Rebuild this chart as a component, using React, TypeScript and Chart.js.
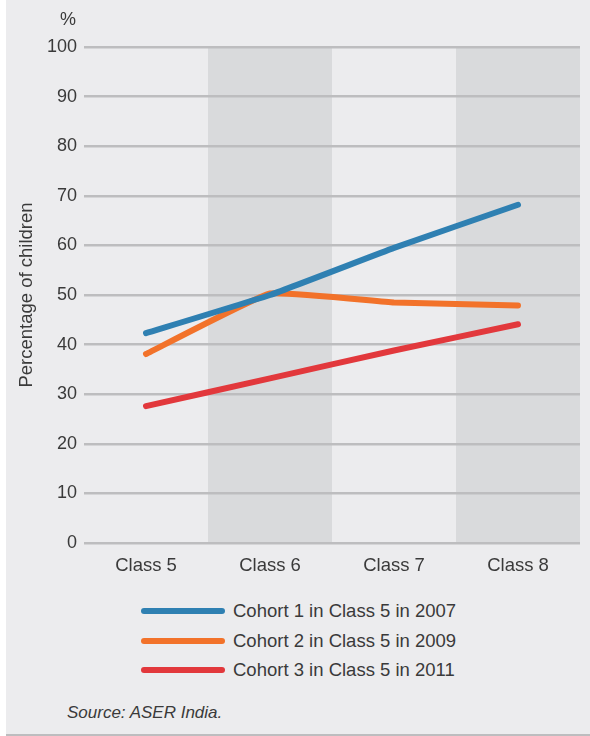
import React, { useEffect, useRef } from "react";
import { Chart, registerables } from "chart.js";

Chart.register(...registerables);

const categories = ["Class 5", "Class 6", "Class 7", "Class 8"];
const cohort1 = [42.3, 50.0, 59.5, 68.2];
const cohort2 = [38.1, 50.3, 48.5, 47.9];
const cohort3 = [27.6, 33.2, 38.8, 44.1];
const seriesNames = [
  "Cohort 1 in Class 5 in 2007",
  "Cohort 2 in Class 5 in 2009",
  "Cohort 3 in Class 5 in 2011",
];
const seriesColors = ["#2F80B2", "#F2722A", "#E2383C"];
const yTicks = [0, 10, 20, 30, 40, 50, 60, 70, 80, 90, 100];
const shadedCategories = [1, 3];

const FONT = "'Liberation Sans', Arial, Helvetica, sans-serif";

const bandPlugin = {
  id: "bands",
  beforeDraw(chart: any) {
    const { ctx, chartArea, scales } = chart;
    const xs = scales.x;
    const step = xs.getPixelForValue(1) - xs.getPixelForValue(0);
    ctx.save();
    ctx.fillStyle = "#D9DADC";
    shadedCategories.forEach((i) => {
      const c = xs.getPixelForValue(i);
      const l = Math.max(chartArea.left, c - step / 2);
      const r = Math.min(chartArea.right, c + step / 2);
      ctx.fillRect(l, chartArea.top, r - l, chartArea.bottom - chartArea.top);
    });
    ctx.restore();
  },
  afterDraw(chart: any) {
    const { ctx, chartArea } = chart;
    ctx.save();
    ctx.fillStyle = "#3a3a3a";
    ctx.font = `18px ${FONT}`;
    ctx.textAlign = "right";
    ctx.textBaseline = "middle";
    ctx.fillText("%", chartArea.left - 8, chartArea.top - 27);
    ctx.restore();
  },
};

export default function App() {
  const ref = useRef<HTMLCanvasElement>(null);

  useEffect(() => {
    document.body.style.margin = "0";
    const canvas = ref.current;
    if (!canvas) return;
    Chart.defaults.font.family = FONT;
    const data = [cohort1, cohort2, cohort3];
    const chart = new Chart(canvas, {
      type: "line",
      data: {
        labels: categories,
        datasets: data.map((d, i) => ({
          label: seriesNames[i],
          data: d,
          borderColor: seriesColors[i],
          backgroundColor: seriesColors[i],
          borderWidth: 6,
          borderCapStyle: "round",
          borderJoinStyle: "round",
          pointRadius: 0,
          tension: 0.1,
          fill: false,
        })),
      },
      options: {
        responsive: false,
        animation: false,
        layout: { padding: { left: 0, right: 10, top: 47, bottom: 7 } },
        plugins: {
          legend: { display: false },
          tooltip: { enabled: false },
        },
        scales: {
          x: {
            offset: true,
            grid: { display: false, drawTicks: false, offset: true },
            border: { display: false },
            ticks: { color: "#3a3a3a", font: { size: 18.5 }, padding: 12 },
            afterFit: (axis: any) => {
              axis.height = 40;
            },
          },
          y: {
            min: 0,
            max: 100,
            afterBuildTicks: (axis: any) => {
              axis.ticks = yTicks.map((v) => ({ value: v }));
            },
            grid: { color: "#BDBDBF", lineWidth: 2.5, drawTicks: false },
            border: { display: false },
            ticks: { color: "#3a3a3a", font: { size: 18 }, padding: 7 },
            title: {
              display: true,
              text: "Percentage of children",
              color: "#3a3a3a",
              font: { size: 18.5 },
              padding: { top: 10, bottom: 0 },
            },
            afterFit: (axis: any) => {
              axis.width = 78;
            },
          },
        },
      },
      plugins: [bandPlugin],
    } as any);
    return () => chart.destroy();
  }, []);

  const legendTops = [611, 641, 670];

  return (
    <div style={{ position: "relative", width: 590, height: 736, background: "#fff", fontFamily: FONT }}>
      <div
        style={{
          position: "absolute",
          left: 6,
          top: 0,
          width: 584,
          height: 734,
          background: "#ECECEE",
          borderBottom: "2px solid #BDBDBF",
        }}
      >
        <canvas ref={ref} width={584} height={590} style={{ position: "absolute", left: 0, top: 0, width: 584, height: 590 }} />
        {seriesNames.map((name, i) => (
          <div
            key={name}
            style={{
              position: "absolute",
              left: 135,
              top: legendTops[i] - 12,
              height: 24,
              display: "flex",
              alignItems: "center",
              whiteSpace: "nowrap",
            }}
          >
            <div style={{ width: 84, height: 6, borderRadius: 3, background: seriesColors[i] }} />
            <span style={{ marginLeft: 8, fontSize: 18.5, color: "#3a3a3a" }}>{name}</span>
          </div>
        ))}
        <div
          style={{
            position: "absolute",
            left: 61,
            top: 713 - 11,
            height: 22,
            lineHeight: "22px",
            fontSize: 17,
            fontStyle: "italic",
            color: "#3a3a3a",
            whiteSpace: "nowrap",
          }}
        >
          Source: ASER India.
        </div>
      </div>
    </div>
  );
}
